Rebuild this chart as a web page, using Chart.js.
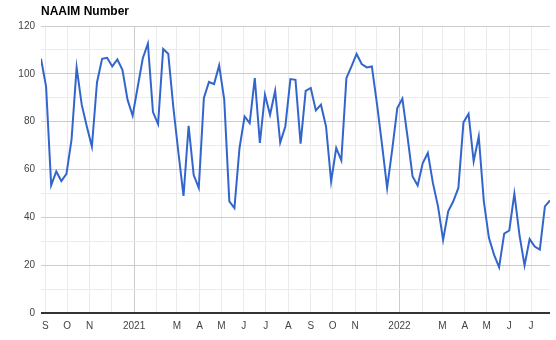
<!DOCTYPE html>
<html>
<head>
<meta charset="utf-8">
<script src="https://cdn.jsdelivr.net/npm/chart.js@4"></script>
<style>
  html, body { margin: 0; padding: 0; background: #fff; }
  #wrap { width: 556px; height: 340px; position: relative; }
</style>
</head>
<body>
<div id="wrap"><canvas id="chart"></canvas></div>
<script>
  // weekly readings, first one on this Wednesday
  const firstWeek = '2020-08-26';
  const naaim = [
    106.3, 94.7, 53.4, 59.2, 55.2, 58.2, 72.5, 102.7, 87.1, 78,
    69.6, 96.4, 106.3, 106.7, 103.1, 106.0, 101.7, 89.2, 82.5, 94.5,
    106.5, 112.6, 84, 79, 110.4, 108.4, 86, 67, 49, 78.3,
    57.7, 52.3, 89.9, 96.6, 95.7, 103.5, 89.2, 46.7, 43.9, 69.0,
    82.2, 79.4, 98.2, 71.1, 91.3, 82.9, 92.9, 71.3, 78.0, 97.8,
    97.5, 70.8, 92.9, 94.1, 84.7, 87.1, 78.0, 55.0, 69.0, 63.8,
    98.2, 103.1, 108.3, 104.1, 102.7, 103.1, 87.5, 70.4, 52.3, 68.3,
    85.7, 89.6, 73.8, 57.1, 53.3, 62.7, 66.9, 54.3, 44.6, 30.6,
    42.5, 46.7, 52.3, 79.7, 83.3, 63.4, 73.8, 46.7, 31.4, 24.4,
    19.1, 33.2, 34.5, 49.9, 32.7, 19.9, 30.9, 27.8, 26.5, 44.6, 47.1
  ];
  const tickDates = [
    '2020-09-01','2020-10-01','2020-11-01','2020-12-01','2021-01-01','2021-02-01',
    '2021-03-01','2021-04-01','2021-05-01','2021-06-01','2021-07-01','2021-08-01',
    '2021-09-01','2021-10-01','2021-11-01','2021-12-01','2022-01-01','2022-02-01',
    '2022-03-01','2022-04-01','2022-05-01','2022-06-01','2022-07-01'
  ];
  const tickLabels = ['S','O','N','','2021','','M','A','M','J','J','A','S','O','N','','2022','','M','A','M','J','J'];
  const yTickLabels = ['0','20','40','60','80','100','120'];

  const dayOf = s => Date.parse(s + 'T00:00:00Z') / 86400000;
  const startDay = dayOf(firstWeek);
  const points = naaim.map((v, i) => ({ x: startDay + 7 * i, y: v }));
  const tickDays = tickDates.map(dayOf);
  const isYear = s => /^\d{4}$/.test(s);

  const titlePlugin = {
    id: 'topTitle',
    afterDraw(chart){
      const c = chart.ctx;
      c.save();
      c.font = 'bold 12px "Liberation Sans", Arial, sans-serif';
      c.fillStyle = '#000';
      c.textBaseline = 'alphabetic';
      c.fillText('NAAIM Number', chart.chartArea.left, 15);
      c.restore();
    }
  };

  const font = { family: '"Liberation Sans", Arial, sans-serif', size: 10 };

  new Chart(document.getElementById('chart'), {
    type: 'line',
    data: {
      datasets: [{
        label: 'NAAIM Number',
        data: points,
        borderColor: '#3366cc',
        borderWidth: 2,
        pointRadius: 0,
        tension: 0,
        fill: false
      }]
    },
    options: {
      responsive: true,
      maintainAspectRatio: false,
      animation: false,
      layout: { padding: { top: 26, right: 6, left: 0, bottom: 0 } },
      plugins: { legend: { display: false }, tooltip: { enabled: false }, title: { display: false } },
      scales: {
        x: {
          type: 'linear',
          min: startDay,
          max: startDay + 7 * (naaim.length - 1),
          afterBuildTicks: scale => { scale.ticks = tickDays.map(v => ({ value: v })); },
          afterFit: scale => { scale.height = 27; },
          ticks: {
            autoSkip: false, maxRotation: 0, padding: 7, color: '#444', font,
            callback: (v, i) => tickLabels[i]
          },
          grid: {
            drawTicks: false,
            color: c => isYear(tickLabels[c.index] || '') ? '#cccccc' : '#ebebeb'
          },
          border: { display: false }
        },
        y: {
          min: 0, max: 120,
          ticks: {
            stepSize: 10, padding: 6, color: '#444', font,
            callback: v => v % 20 === 0 ? yTickLabels[v / 20] : ''
          },
          afterFit: scale => { scale.width = 41; },
          grid: {
            drawTicks: false,
            color: c => c.tick.value === 0 ? '#333333' : (c.tick.value % 20 === 0 ? '#cccccc' : '#ebebeb'),
            lineWidth: c => c.tick.value === 0 ? 2 : 1
          },
          border: { display: false }
        }
      }
    },
    plugins: [titlePlugin]
  });
</script>
</body>
</html>
